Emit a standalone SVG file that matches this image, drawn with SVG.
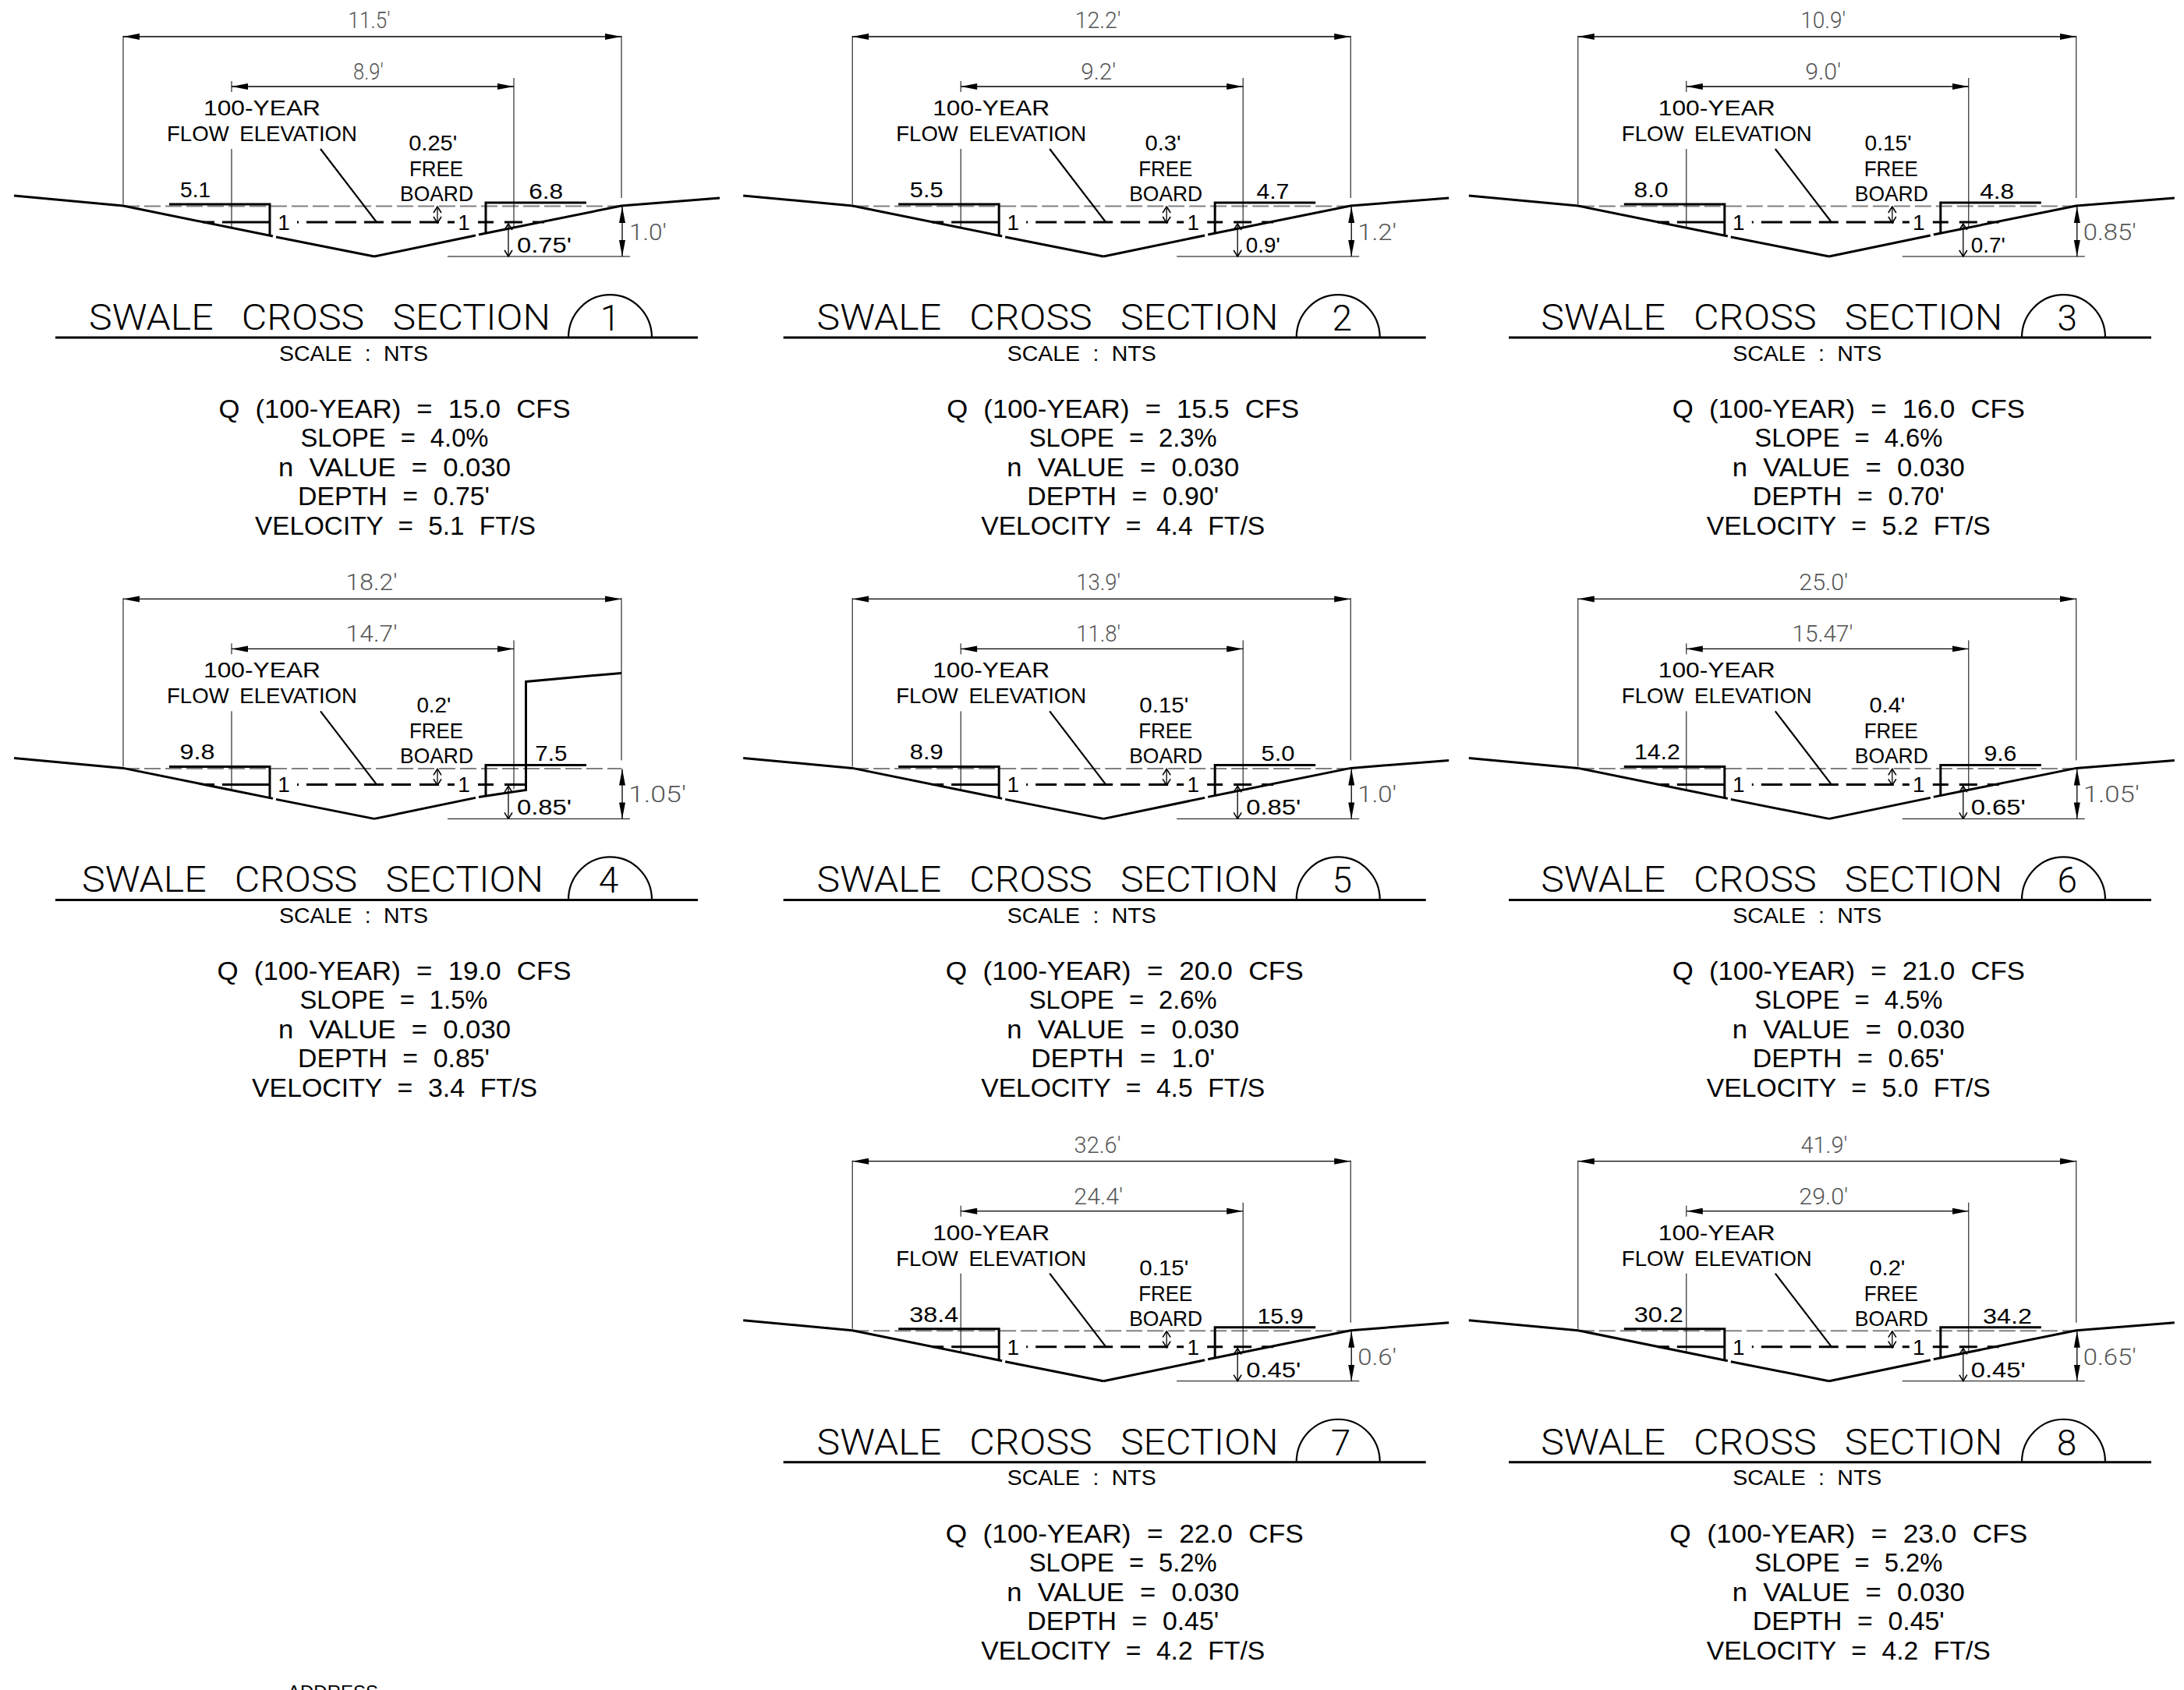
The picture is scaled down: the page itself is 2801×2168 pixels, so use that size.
<svg xmlns="http://www.w3.org/2000/svg" width="2801" height="2168" viewBox="0 0 2801 2168">
<style>
text{font-family:"Liberation Sans",Arial,sans-serif;fill:#000;text-anchor:middle;white-space:pre}
.l{font-size:28px;word-spacing:6px}
.g{font-size:30px;fill:#555;font-family:"Roboto","Liberation Sans",sans-serif;font-weight:300}
.title{font-size:46px;text-anchor:start;word-spacing:22px;font-family:"Roboto","Liberation Sans",sans-serif;font-weight:300}
.num{font-size:46px;font-family:"Roboto","Liberation Sans",sans-serif;font-weight:300}
.scale{font-size:27px;word-spacing:8px}
.n{font-size:33px;word-spacing:10px}
.thin{fill:none;stroke:#000;stroke-width:1}
.dim{fill:none;stroke:#000;stroke-width:1.3}
.thick{fill:none;stroke:#000;stroke-width:3}
.mid{fill:none;stroke:#000;stroke-width:2.2}
.wdash{fill:none;stroke:#808080;stroke-width:2;stroke-dasharray:21 6}
</style>
<defs>
<marker id="solid-s" markerUnits="userSpaceOnUse" markerWidth="22" markerHeight="10" refX="0" refY="4" orient="auto"><path d="M0 4L21 0V8Z" fill="#000"/></marker>
<marker id="solid-e" markerUnits="userSpaceOnUse" markerWidth="22" markerHeight="10" refX="21" refY="4" orient="auto"><path d="M21 4L0 0V8Z" fill="#000"/></marker>
<marker id="open-s" markerUnits="userSpaceOnUse" markerWidth="10" markerHeight="12" refX="1" refY="6" orient="auto"><path d="M9 1L1 6L9 11" fill="none" stroke="#000" stroke-width="1.6"/></marker>
<marker id="open-e" markerUnits="userSpaceOnUse" markerWidth="10" markerHeight="12" refX="9" refY="6" orient="auto"><path d="M1 1L9 6L1 11" fill="none" stroke="#000" stroke-width="1.6"/></marker>
<g id="common">
<path class="wdash" d="M158 264.5H797"/>
<path class="thin" d="M158 46V262M797 46V254M297 104V118M297 191V292M659 100V291M574 329H808"/>
<path class="dim" marker-start="url(#solid-s)" marker-end="url(#solid-e)" d="M158 47H797"/>
<path class="dim" marker-start="url(#solid-s)" marker-end="url(#solid-e)" d="M297 111H659"/>
<path class="dim" marker-start="url(#solid-s)" marker-end="url(#solid-e)" d="M798 265V329"/>
<path class="dim" marker-start="url(#open-s)" marker-end="url(#open-e)" d="M652 287V329"/>
<path class="dim" marker-start="url(#open-s)" marker-end="url(#open-e)" d="M561 265V286"/>
<path class="thick" stroke-width="2.6" d="M18 251L158 264L350 303M354 304L480 329"/>
<path class="thick" d="M217 262H346V302M752 260H623V300"/>
<path class="mid" d="M411 191L483 285"/>
<path class="thick" stroke-width="2.5" d="M260 285H275M285 285H347M381 285H383M393 285H420M430 285H457M467 285H492M502 285H527M538 285H563M574 285H583M613 285H633"/>
</g>
<g id="title-rule">
<path class="thick" d="M71 433H895"/>
<path class="mid" d="M729 433A53.5 55 0 0 1 836 433"/>
</g>
<g id="right-std"><path class="thick" d="M480 329L610 302M614 301L797 264L923 254M647 285H670M683 285H698"/></g>
<g id="right-wall"><path class="thick" d="M480 329L610 302M614 301L674.5 292V153L797 142M647 285H674"/></g>
</defs>

<g id="swale-1">
<use href="#common"/><use href="#right-std"/><use href="#title-rule"/>
<text class="g" x="473.6" y="36" textLength="54" lengthAdjust="spacingAndGlyphs">11.5'</text>
<text class="g" x="472.4" y="102" textLength="39" lengthAdjust="spacingAndGlyphs">8.9'</text>
<text class="l" x="336" y="148" textLength="150" lengthAdjust="spacingAndGlyphs">100-YEAR</text>
<text class="l" x="336" y="181" textLength="244" lengthAdjust="spacingAndGlyphs">FLOW ELEVATION</text>
<text class="l" x="555.2" y="193" textLength="62" lengthAdjust="spacingAndGlyphs">0.25'</text>
<text class="l" x="559.5" y="226" textLength="69" lengthAdjust="spacingAndGlyphs">FREE</text>
<text class="l" x="560" y="258" textLength="94" lengthAdjust="spacingAndGlyphs">BOARD</text>
<text class="l" x="250.6" y="253" textLength="39" lengthAdjust="spacingAndGlyphs">5.1</text>
<text class="l" x="700.2" y="255" textLength="44" lengthAdjust="spacingAndGlyphs">6.8</text>
<text class="l" x="364" y="295">1</text><text class="l" x="595" y="295">1</text>
<text class="g" x="831" y="308" textLength="48" lengthAdjust="spacingAndGlyphs">1.0'</text>
<text class="l" x="698" y="324" textLength="70" lengthAdjust="spacingAndGlyphs">0.75'</text>
<text class="title" x="114" y="423" textLength="592" lengthAdjust="spacingAndGlyphs">SWALE CROSS SECTION</text>
<text class="num" x="782.4" y="424">1</text>
<text class="scale" x="453.5" y="462.5" textLength="191" lengthAdjust="spacingAndGlyphs">SCALE : NTS</text>
<text class="n" x="506" y="536" textLength="451" lengthAdjust="spacingAndGlyphs">Q (100-YEAR) = 15.0 CFS</text>
<text class="n" x="506" y="573" textLength="241" lengthAdjust="spacingAndGlyphs">SLOPE = 4.0%</text>
<text class="n" x="506" y="611" textLength="298" lengthAdjust="spacingAndGlyphs">n VALUE = 0.030</text>
<text class="n" x="505" y="648" textLength="246" lengthAdjust="spacingAndGlyphs">DEPTH = 0.75'</text>
<text class="n" x="507" y="686" textLength="360" lengthAdjust="spacingAndGlyphs">VELOCITY = 5.1 FT/S</text>
</g>

<g id="swale-2" transform="translate(935.2 0)">
<use href="#common"/><use href="#right-std"/><use href="#title-rule" x="-1.5"/>
<text class="g" x="473" y="36" textLength="59" lengthAdjust="spacingAndGlyphs">12.2'</text>
<text class="g" x="473.6" y="102" textLength="45" lengthAdjust="spacingAndGlyphs">9.2'</text>
<text class="l" x="336" y="148" textLength="150" lengthAdjust="spacingAndGlyphs">100-YEAR</text>
<text class="l" x="336" y="181" textLength="244" lengthAdjust="spacingAndGlyphs">FLOW ELEVATION</text>
<text class="l" x="556.4" y="193" textLength="46" lengthAdjust="spacingAndGlyphs">0.3'</text>
<text class="l" x="559.5" y="226" textLength="69" lengthAdjust="spacingAndGlyphs">FREE</text>
<text class="l" x="560" y="258" textLength="94" lengthAdjust="spacingAndGlyphs">BOARD</text>
<text class="l" x="253" y="253" textLength="43" lengthAdjust="spacingAndGlyphs">5.5</text>
<text class="l" x="697.2" y="255" textLength="42" lengthAdjust="spacingAndGlyphs">4.7</text>
<text class="l" x="364" y="295">1</text><text class="l" x="595" y="295">1</text>
<text class="g" x="831" y="308" textLength="50" lengthAdjust="spacingAndGlyphs">1.2'</text>
<text class="l" x="684.5" y="324" textLength="44" lengthAdjust="spacingAndGlyphs">0.9'</text>
<text class="title" x="112.3" y="423" textLength="592" lengthAdjust="spacingAndGlyphs">SWALE CROSS SECTION</text>
<text class="num" x="786" y="424">2</text>
<text class="scale" x="452" y="462.5" textLength="191" lengthAdjust="spacingAndGlyphs">SCALE : NTS</text>
<text class="n" x="505" y="536" textLength="452" lengthAdjust="spacingAndGlyphs">Q (100-YEAR) = 15.5 CFS</text>
<text class="n" x="505" y="573" textLength="241" lengthAdjust="spacingAndGlyphs">SLOPE = 2.3%</text>
<text class="n" x="505" y="611" textLength="298" lengthAdjust="spacingAndGlyphs">n VALUE = 0.030</text>
<text class="n" x="505" y="648" textLength="246" lengthAdjust="spacingAndGlyphs">DEPTH = 0.90'</text>
<text class="n" x="505" y="686" textLength="364" lengthAdjust="spacingAndGlyphs">VELOCITY = 4.4 FT/S</text>
</g>

<g id="swale-3" transform="translate(1865.8 0)">
<use href="#common"/><use href="#right-std"/><use href="#title-rule" x="-1.8"/>
<text class="g" x="472.4" y="36" textLength="58" lengthAdjust="spacingAndGlyphs">10.9'</text>
<text class="g" x="472.4" y="102" textLength="46" lengthAdjust="spacingAndGlyphs">9.0'</text>
<text class="l" x="336" y="148" textLength="150" lengthAdjust="spacingAndGlyphs">100-YEAR</text>
<text class="l" x="336" y="181" textLength="244" lengthAdjust="spacingAndGlyphs">FLOW ELEVATION</text>
<text class="l" x="555.8" y="193" textLength="60" lengthAdjust="spacingAndGlyphs">0.15'</text>
<text class="l" x="559.5" y="226" textLength="69" lengthAdjust="spacingAndGlyphs">FREE</text>
<text class="l" x="560" y="258" textLength="94" lengthAdjust="spacingAndGlyphs">BOARD</text>
<text class="l" x="251.8" y="253" textLength="44" lengthAdjust="spacingAndGlyphs">8.0</text>
<text class="l" x="695.4" y="255" textLength="44" lengthAdjust="spacingAndGlyphs">4.8</text>
<text class="l" x="364" y="295">1</text><text class="l" x="595" y="295">1</text>
<text class="g" x="840" y="308" textLength="68" lengthAdjust="spacingAndGlyphs">0.85'</text>
<text class="l" x="684" y="324" textLength="44" lengthAdjust="spacingAndGlyphs">0.7'</text>
<text class="title" x="110.5" y="423" textLength="592" lengthAdjust="spacingAndGlyphs">SWALE CROSS SECTION</text>
<text class="num" x="785.4" y="424">3</text>
<text class="scale" x="452" y="462.5" textLength="191" lengthAdjust="spacingAndGlyphs">SCALE : NTS</text>
<text class="n" x="505" y="536" textLength="452" lengthAdjust="spacingAndGlyphs">Q (100-YEAR) = 16.0 CFS</text>
<text class="n" x="505" y="573" textLength="241" lengthAdjust="spacingAndGlyphs">SLOPE = 4.6%</text>
<text class="n" x="505" y="611" textLength="298" lengthAdjust="spacingAndGlyphs">n VALUE = 0.030</text>
<text class="n" x="505" y="648" textLength="246" lengthAdjust="spacingAndGlyphs">DEPTH = 0.70'</text>
<text class="n" x="505" y="686" textLength="364" lengthAdjust="spacingAndGlyphs">VELOCITY = 5.2 FT/S</text>
</g>

<g id="swale-4" transform="translate(0 721.4)">
<use href="#common"/><use href="#right-wall"/><use href="#title-rule"/>
<text class="g" x="476.6" y="36" textLength="66" lengthAdjust="spacingAndGlyphs">18.2'</text>
<text class="g" x="476.6" y="102" textLength="66" lengthAdjust="spacingAndGlyphs">14.7'</text>
<text class="l" x="336" y="148" textLength="150" lengthAdjust="spacingAndGlyphs">100-YEAR</text>
<text class="l" x="336" y="181" textLength="244" lengthAdjust="spacingAndGlyphs">FLOW ELEVATION</text>
<text class="l" x="556.4" y="193" textLength="44" lengthAdjust="spacingAndGlyphs">0.2'</text>
<text class="l" x="559.5" y="226" textLength="69" lengthAdjust="spacingAndGlyphs">FREE</text>
<text class="l" x="560" y="258" textLength="94" lengthAdjust="spacingAndGlyphs">BOARD</text>
<text class="l" x="253" y="253" textLength="45" lengthAdjust="spacingAndGlyphs">9.8</text>
<text class="l" x="706.8" y="255" textLength="41" lengthAdjust="spacingAndGlyphs">7.5</text>
<text class="l" x="364" y="295">1</text><text class="l" x="595" y="295">1</text>
<text class="g" x="843" y="308" textLength="74" lengthAdjust="spacingAndGlyphs">1.05'</text>
<text class="l" x="698" y="324" textLength="70" lengthAdjust="spacingAndGlyphs">0.85'</text>
<text class="title" x="105" y="423" textLength="592" lengthAdjust="spacingAndGlyphs">SWALE CROSS SECTION</text>
<text class="num" x="780.6" y="424">4</text>
<text class="scale" x="453.5" y="462.5" textLength="191" lengthAdjust="spacingAndGlyphs">SCALE : NTS</text>
<text class="n" x="505.5" y="536" textLength="454" lengthAdjust="spacingAndGlyphs">Q (100-YEAR) = 19.0 CFS</text>
<text class="n" x="505" y="573" textLength="241" lengthAdjust="spacingAndGlyphs">SLOPE = 1.5%</text>
<text class="n" x="506" y="611" textLength="298" lengthAdjust="spacingAndGlyphs">n VALUE = 0.030</text>
<text class="n" x="505" y="648" textLength="246" lengthAdjust="spacingAndGlyphs">DEPTH = 0.85'</text>
<text class="n" x="506" y="686" textLength="366" lengthAdjust="spacingAndGlyphs">VELOCITY = 3.4 FT/S</text>
</g>

<g id="swale-5" transform="translate(935.2 721.4)">
<use href="#common"/><use href="#right-std"/><use href="#title-rule" x="-1.5"/>
<text class="g" x="473.6" y="36" textLength="57" lengthAdjust="spacingAndGlyphs">13.9'</text>
<text class="g" x="473.6" y="102" textLength="57" lengthAdjust="spacingAndGlyphs">11.8'</text>
<text class="l" x="336" y="148" textLength="150" lengthAdjust="spacingAndGlyphs">100-YEAR</text>
<text class="l" x="336" y="181" textLength="244" lengthAdjust="spacingAndGlyphs">FLOW ELEVATION</text>
<text class="l" x="557.6" y="193" textLength="63" lengthAdjust="spacingAndGlyphs">0.15'</text>
<text class="l" x="559.5" y="226" textLength="69" lengthAdjust="spacingAndGlyphs">FREE</text>
<text class="l" x="560" y="258" textLength="94" lengthAdjust="spacingAndGlyphs">BOARD</text>
<text class="l" x="253" y="253" textLength="43" lengthAdjust="spacingAndGlyphs">8.9</text>
<text class="l" x="703.8" y="255" textLength="43" lengthAdjust="spacingAndGlyphs">5.0</text>
<text class="l" x="364" y="295">1</text><text class="l" x="595" y="295">1</text>
<text class="g" x="831" y="308" textLength="50" lengthAdjust="spacingAndGlyphs">1.0'</text>
<text class="l" x="698" y="324" textLength="70" lengthAdjust="spacingAndGlyphs">0.85'</text>
<text class="title" x="112.3" y="423" textLength="592" lengthAdjust="spacingAndGlyphs">SWALE CROSS SECTION</text>
<text class="num" x="786" y="424">5</text>
<text class="scale" x="452" y="462.5" textLength="191" lengthAdjust="spacingAndGlyphs">SCALE : NTS</text>
<text class="n" x="507" y="536" textLength="459" lengthAdjust="spacingAndGlyphs">Q (100-YEAR) = 20.0 CFS</text>
<text class="n" x="505" y="573" textLength="241" lengthAdjust="spacingAndGlyphs">SLOPE = 2.6%</text>
<text class="n" x="505" y="611" textLength="298" lengthAdjust="spacingAndGlyphs">n VALUE = 0.030</text>
<text class="n" x="505" y="648" textLength="236" lengthAdjust="spacingAndGlyphs">DEPTH = 1.0'</text>
<text class="n" x="505" y="686" textLength="364" lengthAdjust="spacingAndGlyphs">VELOCITY = 4.5 FT/S</text>
</g>

<g id="swale-6" transform="translate(1865.8 721.4)">
<use href="#common"/><use href="#right-std"/><use href="#title-rule" x="-1.8"/>
<text class="g" x="473" y="36" textLength="63" lengthAdjust="spacingAndGlyphs">25.0'</text>
<text class="g" x="471.8" y="102" textLength="78" lengthAdjust="spacingAndGlyphs">15.47'</text>
<text class="l" x="336" y="148" textLength="150" lengthAdjust="spacingAndGlyphs">100-YEAR</text>
<text class="l" x="336" y="181" textLength="244" lengthAdjust="spacingAndGlyphs">FLOW ELEVATION</text>
<text class="l" x="554.6" y="193" textLength="46" lengthAdjust="spacingAndGlyphs">0.4'</text>
<text class="l" x="559.5" y="226" textLength="69" lengthAdjust="spacingAndGlyphs">FREE</text>
<text class="l" x="560" y="258" textLength="94" lengthAdjust="spacingAndGlyphs">BOARD</text>
<text class="l" x="259.6" y="253" textLength="59" lengthAdjust="spacingAndGlyphs">14.2</text>
<text class="l" x="699.6" y="255" textLength="42" lengthAdjust="spacingAndGlyphs">9.6</text>
<text class="l" x="364" y="295">1</text><text class="l" x="595" y="295">1</text>
<text class="g" x="842" y="308" textLength="72" lengthAdjust="spacingAndGlyphs">1.05'</text>
<text class="l" x="697" y="324" textLength="70" lengthAdjust="spacingAndGlyphs">0.65'</text>
<text class="title" x="110.5" y="423" textLength="592" lengthAdjust="spacingAndGlyphs">SWALE CROSS SECTION</text>
<text class="num" x="785.4" y="424">6</text>
<text class="scale" x="452" y="462.5" textLength="191" lengthAdjust="spacingAndGlyphs">SCALE : NTS</text>
<text class="n" x="505" y="536" textLength="452" lengthAdjust="spacingAndGlyphs">Q (100-YEAR) = 21.0 CFS</text>
<text class="n" x="505" y="573" textLength="241" lengthAdjust="spacingAndGlyphs">SLOPE = 4.5%</text>
<text class="n" x="505" y="611" textLength="298" lengthAdjust="spacingAndGlyphs">n VALUE = 0.030</text>
<text class="n" x="505" y="648" textLength="246" lengthAdjust="spacingAndGlyphs">DEPTH = 0.65'</text>
<text class="n" x="505" y="686" textLength="364" lengthAdjust="spacingAndGlyphs">VELOCITY = 5.0 FT/S</text>
</g>

<g id="swale-7" transform="translate(935.2 1442.7)">
<use href="#common"/><use href="#right-std"/><use href="#title-rule" x="-1.5"/>
<text class="g" x="472.4" y="36" textLength="60" lengthAdjust="spacingAndGlyphs">32.6'</text>
<text class="g" x="473.6" y="102" textLength="63" lengthAdjust="spacingAndGlyphs">24.4'</text>
<text class="l" x="336" y="148" textLength="150" lengthAdjust="spacingAndGlyphs">100-YEAR</text>
<text class="l" x="336" y="181" textLength="244" lengthAdjust="spacingAndGlyphs">FLOW ELEVATION</text>
<text class="l" x="557.6" y="193" textLength="63" lengthAdjust="spacingAndGlyphs">0.15'</text>
<text class="l" x="559.5" y="226" textLength="69" lengthAdjust="spacingAndGlyphs">FREE</text>
<text class="l" x="560" y="258" textLength="94" lengthAdjust="spacingAndGlyphs">BOARD</text>
<text class="l" x="262.6" y="253" textLength="63" lengthAdjust="spacingAndGlyphs">38.4</text>
<text class="l" x="706.8" y="255" textLength="59" lengthAdjust="spacingAndGlyphs">15.9</text>
<text class="l" x="364" y="295">1</text><text class="l" x="595" y="295">1</text>
<text class="g" x="831" y="308" textLength="50" lengthAdjust="spacingAndGlyphs">0.6'</text>
<text class="l" x="698" y="324" textLength="70" lengthAdjust="spacingAndGlyphs">0.45'</text>
<text class="title" x="112.3" y="423" textLength="592" lengthAdjust="spacingAndGlyphs">SWALE CROSS SECTION</text>
<text class="num" x="784.2" y="424">7</text>
<text class="scale" x="452" y="462.5" textLength="191" lengthAdjust="spacingAndGlyphs">SCALE : NTS</text>
<text class="n" x="507" y="536" textLength="459" lengthAdjust="spacingAndGlyphs">Q (100-YEAR) = 22.0 CFS</text>
<text class="n" x="505" y="573" textLength="241" lengthAdjust="spacingAndGlyphs">SLOPE = 5.2%</text>
<text class="n" x="505" y="611" textLength="298" lengthAdjust="spacingAndGlyphs">n VALUE = 0.030</text>
<text class="n" x="505" y="648" textLength="246" lengthAdjust="spacingAndGlyphs">DEPTH = 0.45'</text>
<text class="n" x="505" y="686" textLength="364" lengthAdjust="spacingAndGlyphs">VELOCITY = 4.2 FT/S</text>
</g>

<g id="swale-8" transform="translate(1865.8 1442.7)">
<use href="#common"/><use href="#right-std"/><use href="#title-rule" x="-1.8"/>
<text class="g" x="473.6" y="36" textLength="60" lengthAdjust="spacingAndGlyphs">41.9'</text>
<text class="g" x="473" y="102" textLength="63" lengthAdjust="spacingAndGlyphs">29.0'</text>
<text class="l" x="336" y="148" textLength="150" lengthAdjust="spacingAndGlyphs">100-YEAR</text>
<text class="l" x="336" y="181" textLength="244" lengthAdjust="spacingAndGlyphs">FLOW ELEVATION</text>
<text class="l" x="554.6" y="193" textLength="46" lengthAdjust="spacingAndGlyphs">0.2'</text>
<text class="l" x="559.5" y="226" textLength="69" lengthAdjust="spacingAndGlyphs">FREE</text>
<text class="l" x="560" y="258" textLength="94" lengthAdjust="spacingAndGlyphs">BOARD</text>
<text class="l" x="261.4" y="253" textLength="63" lengthAdjust="spacingAndGlyphs">30.2</text>
<text class="l" x="708.6" y="255" textLength="63" lengthAdjust="spacingAndGlyphs">34.2</text>
<text class="l" x="364" y="295">1</text><text class="l" x="595" y="295">1</text>
<text class="g" x="840" y="308" textLength="68" lengthAdjust="spacingAndGlyphs">0.65'</text>
<text class="l" x="697" y="324" textLength="70" lengthAdjust="spacingAndGlyphs">0.45'</text>
<text class="title" x="110.5" y="423" textLength="592" lengthAdjust="spacingAndGlyphs">SWALE CROSS SECTION</text>
<text class="num" x="784.8" y="424">8</text>
<text class="scale" x="452" y="462.5" textLength="191" lengthAdjust="spacingAndGlyphs">SCALE : NTS</text>
<text class="n" x="505" y="536" textLength="459" lengthAdjust="spacingAndGlyphs">Q (100-YEAR) = 23.0 CFS</text>
<text class="n" x="505" y="573" textLength="241" lengthAdjust="spacingAndGlyphs">SLOPE = 5.2%</text>
<text class="n" x="505" y="611" textLength="298" lengthAdjust="spacingAndGlyphs">n VALUE = 0.030</text>
<text class="n" x="505" y="648" textLength="246" lengthAdjust="spacingAndGlyphs">DEPTH = 0.45'</text>
<text class="n" x="505" y="686" textLength="364" lengthAdjust="spacingAndGlyphs">VELOCITY = 4.2 FT/S</text>
</g>

<text id="address" x="427" y="2179" font-size="24">ADDRESS</text>
</svg>
